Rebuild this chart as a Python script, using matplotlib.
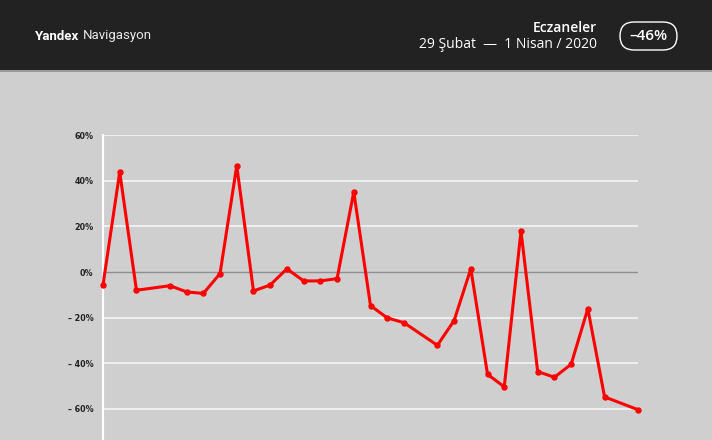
import matplotlib.pyplot as plt
from matplotlib.patches import FancyBboxPatch, Rectangle

# day index from 29 Feb (0) to 1 Apr (32); some days have no point
days = [0, 1, 2, 4, 5, 6, 7, 8, 9, 10, 11, 12, 13, 14, 15, 16, 17, 18,
        20, 21, 22, 23, 24, 25, 26, 27, 28, 29, 30, 32]
values = [-5.7, 43.8, -8.0, -6.0, -8.7, -9.4, -0.7, 46.5, -8.3, -5.7,
          1.4, -3.9, -3.9, -2.9, 35.1, -14.7, -20.1, -22.2, -32.1, -21.3,
          1.4, -44.8, -50.3, 17.9, -43.6, -46.1, -40.4, -16.1, -54.7, -60.3]
yticks = [60, 40, 20, 0, -20, -40, -60]
ytick_labels = ['60%', '40%', '20%', '0%', '– 20%', '– 40%', '– 60%']

W, H = 712, 440
fig = plt.figure(figsize=(W / 100, H / 100), dpi=100)
fig.patch.set_facecolor('#cfcfcf')

# overlay in pixel units for the header
hd = fig.add_axes([0, 0, 1, 1])
hd.set_xlim(0, W)
hd.set_ylim(H, 0)
hd.axis('off')
hd.set_zorder(0)

hd.add_patch(Rectangle((0, 0), W, 70, facecolor='#222222', edgecolor='none'))
hd.add_patch(Rectangle((0, 70), W, 2, facecolor='#9a9a9a', edgecolor='none'))

t1 = hd.text(35, 36, 'Yandex', color='white', fontsize=9.5, fontweight='bold',
             family='Roboto', va='center', ha='left')
hd.annotate('Navigasyon', xy=(1, 0.5), xycoords=t1, xytext=(2.5, 0),
            textcoords='offset points', color='#e8e8e8', fontsize=9.5,
            family='Roboto', va='center', ha='left')
hd.text(597, 28, 'Eczaneler', color='white', fontsize=10,
        family='Open Sans', fontweight='semibold', va='center', ha='right')
hd.text(597, 45, '29 Şubat  —  1 Nisan / 2020', color='white',
        fontsize=10, family='Open Sans', va='center', ha='right')

hd.add_patch(FancyBboxPatch((620, 22), 57, 28,
                            boxstyle='round,pad=0,rounding_size=14',
                            facecolor='none', edgecolor='white', linewidth=1))
hd.text(648.5, 36.5, '–46%', color='white', fontsize=11,
        family='Open Sans', fontweight='semibold', va='center', ha='center')

# chart axes: 60% at y=135px, 0% at y=272px
px_per = (272 - 135) / 60
top = 135
bottom = 272 + 80 * px_per
ax = fig.add_axes([103 / W, 1 - bottom / H, (638 - 103) / W, (bottom - top) / H])
ax.set_facecolor('none')
ax.set_zorder(1)
ax.set_ylim(-80, 60)
ax.set_xlim(0, 32)

for s in ['top', 'right', 'bottom']:
    ax.spines[s].set_visible(False)
ax.spines['left'].set_color('white')
ax.spines['left'].set_linewidth(1.5)

for t in yticks:
    if t == 0:
        ax.axhline(0, color='#8f8f8f', linewidth=1, zorder=1)
    else:
        ax.axhline(t, color='#f2f2f2', linewidth=1.3, zorder=1)

ax.set_yticks(yticks)
ax.set_yticklabels(ytick_labels, fontsize=5.8, fontweight='bold', color='#222222',
                   family='DejaVu Sans')
ax.tick_params(axis='y', length=0, pad=7)
ax.set_xticks([])

ax.plot(days, values, color='#ff0000', linewidth=2.2, marker='o', markersize=3.6,
        zorder=3, clip_on=False)

fig.savefig('out.png', dpi=100, facecolor=fig.get_facecolor())
